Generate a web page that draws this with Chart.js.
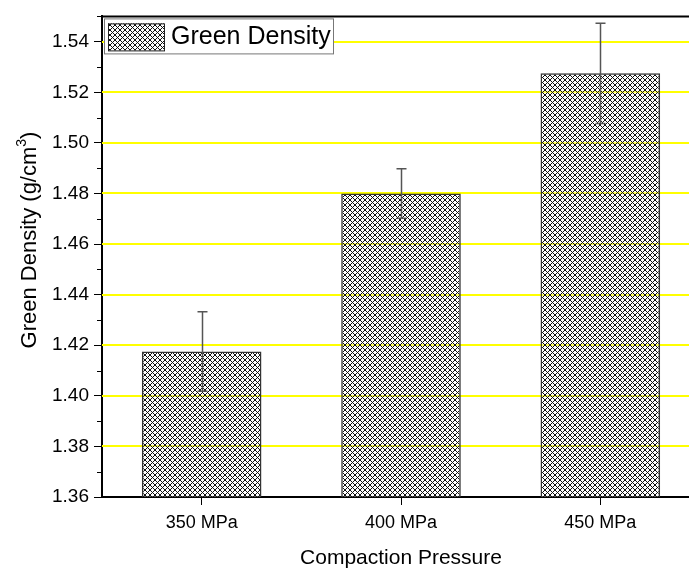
<!DOCTYPE html>
<html>
<head>
<meta charset="utf-8">
<script src="https://cdn.jsdelivr.net/npm/chart.js@4"></script>
<style>
  body { margin: 0; overflow: hidden; background: #fff; }
  #wrap { width: 700px; height: 572px; }
</style>
</head>
<body>
<div id="wrap"><canvas id="chart" width="700" height="572"></canvas></div>
<script>
const categories = ['350 MPa', '400 MPa', '450 MPa']
const density = [1.4175, 1.48, 1.5275]
const densityErr = [0.0157, 0.0098, 0.0198]
const yTicks = [1.36, 1.38, 1.40, 1.42, 1.44, 1.46, 1.48, 1.50, 1.52, 1.54]
const yMinor = [1.37, 1.39, 1.41, 1.43, 1.45, 1.47, 1.49, 1.51, 1.53, 1.55]

const FONT = 'Liberation Sans, Arial, sans-serif'

// cross hatch fill like the origin plot
const makeHatch = () => {
  const size = 5
  const c = document.createElement('canvas')
  c.width = size
  c.height = size
  const g = c.getContext('2d')
  g.fillStyle = 'rgba(255,255,255,0.35)'
  g.fillRect(0, 0, size, size)
  g.fillStyle = '#111'
  for (let i = 0; i < size; i++) {
    g.fillRect(i, i, 1, 1)
    g.fillRect(i, size - 1 - i, 1, 1)
  }
  return g.createPattern(c, 'repeat')
}
const hatch = makeHatch()

const extras = {
  id: 'extras',
  beforeDatasetsDraw(chart) {
    // yellow grid lines
    const ctx = chart.ctx
    const area = chart.chartArea
    const y = chart.scales.y
    ctx.save()
    ctx.fillStyle = '#ffff00'
    yTicks.slice(1).forEach((v) => {
      const py = Math.round(y.getPixelForValue(v))
      ctx.fillRect(area.left, py - 1, area.right - area.left, 2)
    })
    ctx.restore()
  },
  afterDraw(chart) {
    const ctx = chart.ctx
    const area = chart.chartArea
    const x = chart.scales.x
    const y = chart.scales.y
    ctx.save()

    // top frame line
    ctx.strokeStyle = '#000'
    ctx.lineWidth = 2
    ctx.beginPath()
    ctx.moveTo(area.left - 1, area.top)
    ctx.lineTo(area.right, area.top)
    ctx.stroke()

    // minor ticks
    ctx.lineWidth = 1
    yMinor.forEach((v) => {
      const py = Math.round(y.getPixelForValue(v)) + 0.5
      ctx.beginPath()
      ctx.moveTo(area.left - 5, py)
      ctx.lineTo(area.left, py)
      ctx.stroke()
    })

    // error bars
    ctx.strokeStyle = '#555'
    ctx.lineWidth = 1.5
    density.forEach((v, i) => {
      const px = Math.round(x.getPixelForValue(i)) + 0.5
      const top = y.getPixelForValue(v + densityErr[i])
      const bot = y.getPixelForValue(v - densityErr[i])
      ctx.beginPath()
      ctx.moveTo(px, top)
      ctx.lineTo(px, bot)
      ctx.moveTo(px - 5, top)
      ctx.lineTo(px + 5, top)
      ctx.moveTo(px - 5, bot)
      ctx.lineTo(px + 5, bot)
      ctx.stroke()
    })

    // y title with a raised 3
    ctx.translate(30, 240)
    ctx.rotate(-Math.PI / 2)
    ctx.fillStyle = '#000'
    ctx.textBaseline = 'middle'
    const main = 'Green Density (g/cm'
    ctx.font = '22px ' + FONT
    const w1 = ctx.measureText(main).width
    const wClose = ctx.measureText(')').width
    ctx.font = '14px ' + FONT
    const wSup = ctx.measureText('3').width
    let sx = -(w1 + wSup + wClose) / 2
    ctx.font = '22px ' + FONT
    ctx.fillText(main, sx, 0)
    ctx.font = '14px ' + FONT
    ctx.fillText('3', sx + w1, -8)
    ctx.font = '22px ' + FONT
    ctx.fillText(')', sx + w1 + wSup, 0)
    ctx.setTransform(1, 0, 0, 1, 0, 0)

    // legend box
    const lx = area.left + 2
    const ly = area.top + 2
    ctx.fillStyle = '#fff'
    ctx.fillRect(lx, ly, 229, 35)
    ctx.strokeStyle = '#777'
    ctx.lineWidth = 1
    ctx.strokeRect(lx + 0.5, ly + 0.5, 229, 35)
    ctx.fillStyle = hatch
    ctx.fillRect(lx + 4, ly + 5, 56, 27)
    ctx.strokeStyle = '#222'
    ctx.strokeRect(lx + 4.5, ly + 5.5, 56, 27)
    ctx.fillStyle = '#000'
    ctx.font = '25px ' + FONT
    ctx.textBaseline = 'middle'
    ctx.fillText('Green Density', lx + 67, ly + 19)
    ctx.restore()
  },
}

new Chart(document.getElementById('chart'), {
  type: 'bar',
  data: {
    labels: categories,
    datasets: [
      {
        label: 'Green Density',
        data: density,
        backgroundColor: hatch,
        borderColor: '#333',
        borderWidth: 1.5,
        barPercentage: 0.6,
        categoryPercentage: 1,
      },
    ],
  },
  options: {
    responsive: false,
    animation: false,
    layout: { padding: { top: 15, right: 0, bottom: 0, left: 0 } },
    plugins: { legend: { display: false }, tooltip: { enabled: false } },
    scales: {
      x: {
        afterFit: (s) => { s.height = 75 },
        grid: { offset: false, drawOnChartArea: false, tickColor: '#000', tickLength: 8, tickWidth: 1 },
        border: { color: '#000', width: 2 },
        ticks: { color: '#000', padding: 7, font: { family: FONT, size: 18 } },
        title: {
          display: true,
          text: 'Compaction Pressure',
          color: '#000',
          font: { family: FONT, size: 21 },
          padding: { top: 0, bottom: 1 },
        },
      },
      y: {
        min: 1.36,
        max: 1.55,
        afterFit: (s) => { s.width = 102 },
        afterBuildTicks: (s) => { s.ticks = yTicks.map((v) => ({ value: v })) },
        grid: { drawOnChartArea: false, tickColor: '#000', tickLength: 8 },
        border: { color: '#000', width: 2 },
        ticks: {
          color: '#000',
          padding: 5,
          font: { family: FONT, size: 19 },
          callback: (v) => v.toFixed(2),
        },
        title: { display: false },
      },
    },
  },
  plugins: [extras],
})
</script>
</body>
</html>
